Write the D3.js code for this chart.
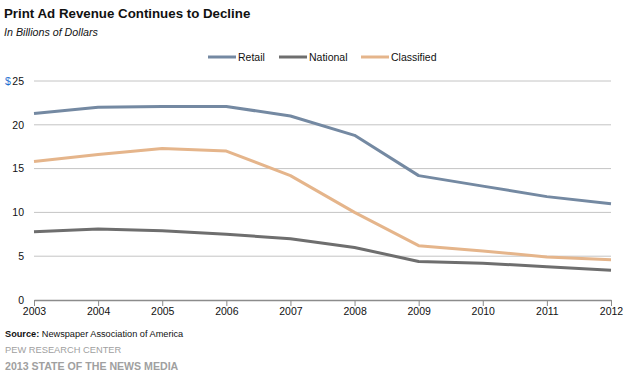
<!DOCTYPE html>
<html>
<head>
<meta charset="utf-8">
<script src="https://cdn.jsdelivr.net/npm/d3@7"></script>
<style>
  body { margin: 0; background: #fff; }
  svg { font-family: "Liberation Sans", Arial, sans-serif; }
</style>
</head>
<body>
<div id="chart"></div>
<script>
// chart data
var years = [2003, 2004, 2005, 2006, 2007, 2008, 2009, 2010, 2011, 2012];
var retail = [21.3, 22.0, 22.1, 22.1, 21.0, 18.8, 14.2, 13.0, 11.8, 11.0];
var national = [7.8, 8.1, 7.9, 7.5, 7.0, 6.0, 4.4, 4.2, 3.8, 3.4];
var classified = [15.8, 16.6, 17.3, 17.0, 14.2, 10.0, 6.2, 5.6, 4.9, 4.6];
var yTicks = [0, 5, 10, 15, 20, 25];

var seriesNames = ["Retail", "National", "Classified"];
var seriesColors = ["#7489a2", "#6e6e6e", "#e5b58b"];
var seriesValues = [retail, national, classified];

var svgWidth = 634, svgHeight = 382;
var margin = { top: 81, right: 23, bottom: 82, left: 34 };
var width = svgWidth - margin.left - margin.right;
var height = svgHeight - margin.top - margin.bottom;

var svg = d3.select("#chart")
  .append("svg")
  .attr("width", svgWidth)
  .attr("height", svgHeight);

// title block
svg.append("text")
  .attr("x", 4).attr("y", 18)
  .style("font-size", "13.3px").style("font-weight", "bold").style("fill", "#111")
  .text("Print Ad Revenue Continues to Decline");

svg.append("text")
  .attr("x", 4).attr("y", 36)
  .style("font-size", "10.7px").style("font-style", "italic").style("fill", "#111")
  .text("In Billions of Dollars");

var chartGroup = svg.append("g")
  .attr("transform", `translate(${margin.left}, ${margin.top})`);

var x = d3.scaleLinear()
  .domain([2003, 2012])
  .range([0, width]);

var y = d3.scaleLinear()
  .domain([0, 25])
  .range([height, 0]);

// gridlines
chartGroup.append("g")
  .selectAll("line")
  .data(yTicks.filter(d => d > 0))
  .enter()
  .append("line")
  .attr("x1", 0).attr("x2", width)
  .attr("y1", d => y(d)).attr("y2", d => y(d))
  .attr("stroke", "#c4c4c4")
  .attr("stroke-width", 1);

// y axis labels
var leftAxis = d3.axisLeft(y).tickValues(yTicks).tickSize(0).tickPadding(10);
var yAxisG = chartGroup.append("g").call(leftAxis);
yAxisG.select(".domain").remove();
yAxisG.selectAll("text").style("font-size", "10.5px").style("fill", "#111").style("font-family", "Liberation Sans, Arial, sans-serif");

svg.append("text")
  .attr("x", 5).attr("y", margin.top + 4)
  .style("font-size", "10.5px").style("fill", "#1f6fd0")
  .text("$");

// x axis
var bottomAxis = d3.axisBottom(x).tickValues(years).tickFormat(d3.format("d")).tickSize(6).tickSizeOuter(0);
var xAxisG = chartGroup.append("g")
  .attr("transform", `translate(0, ${height})`)
  .call(bottomAxis);
xAxisG.select(".domain").attr("stroke", "#8c8c8c").attr("stroke-width", 1.5);
xAxisG.selectAll(".tick line").attr("stroke", "#8c8c8c");
xAxisG.selectAll("text").style("font-size", "10.5px").style("fill", "#111").style("font-family", "Liberation Sans, Arial, sans-serif").attr("dy", "0.6em");

// lines
var line = d3.line()
  .x((d, i) => x(years[i]))
  .y(d => y(d));

chartGroup.selectAll(".series")
  .data(seriesValues)
  .enter()
  .append("path")
  .attr("class", "series")
  .attr("d", d => line(d))
  .attr("fill", "none")
  .attr("stroke", (d, i) => seriesColors[i])
  .attr("stroke-width", 3)
  .attr("stroke-linejoin", "round");

// legend
var legendX = [208, 279, 361];
var legend = svg.append("g")
  .selectAll("g")
  .data(seriesNames)
  .enter()
  .append("g")
  .attr("transform", (d, i) => `translate(${legendX[i]}, 57)`);

legend.append("line")
  .attr("x1", 0).attr("x2", 28)
  .attr("y1", 0).attr("y2", 0)
  .attr("stroke", (d, i) => seriesColors[i])
  .attr("stroke-width", 3);

legend.append("text")
  .attr("x", 30).attr("y", 4)
  .style("font-size", "10.5px").style("fill", "#111")
  .text(d => d);

// footer
var src = svg.append("text")
  .attr("x", 5).attr("y", 337)
  .style("font-size", "9.2px").style("fill", "#111");
src.append("tspan").style("font-weight", "bold").text("Source:");
src.append("tspan").text(" Newspaper Association of America");

svg.append("text")
  .attr("x", 5).attr("y", 353)
  .style("font-size", "9.3px").style("fill", "#a0a0a0")
  .text("PEW RESEARCH CENTER");

svg.append("text")
  .attr("x", 5).attr("y", 370)
  .style("font-size", "10.6px").style("font-weight", "bold").style("fill", "#a0a0a0")
  .text("2013 STATE OF THE NEWS MEDIA");
</script>
</body>
</html>
